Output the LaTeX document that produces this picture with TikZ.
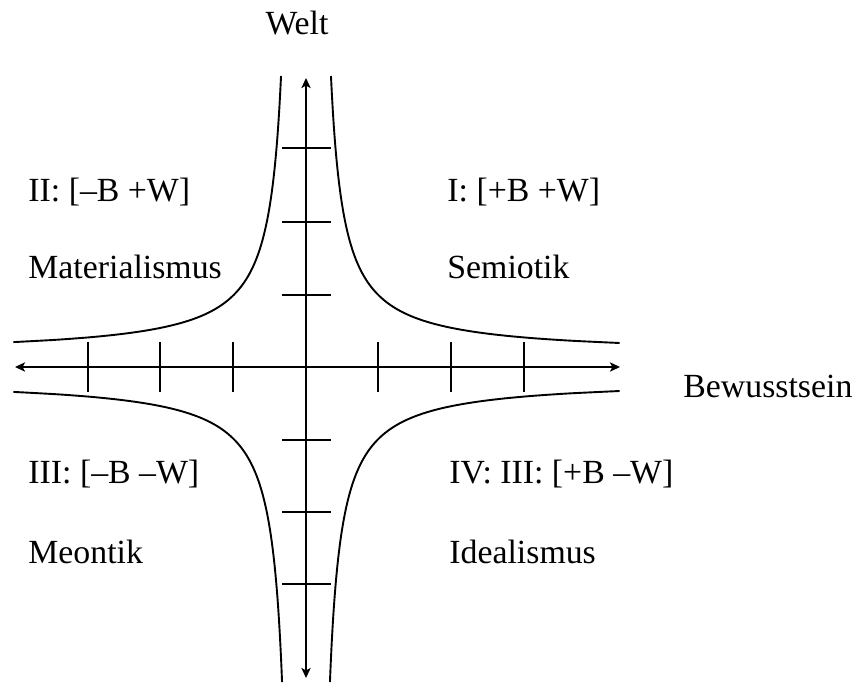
\documentclass[tikz,border=0pt]{standalone}
\usepackage{fontspec}
\setmainfont{Liberation Serif}
\usetikzlibrary{arrows.meta}
\begin{document}
\begin{tikzpicture}[x=0.5pt,y=-0.5pt,
  axis/.style={line width=1pt,-{Stealth[length=5pt,width=4.6pt,inset=1.2pt]}},
  curve/.style={line width=0.95pt},
  tick/.style={line width=0.95pt},
  lbl/.style={anchor=base west,inner sep=0pt,font=\fontsize{16.9}{20}\selectfont}]
\useasboundingbox (0,0) rectangle (861,685);
% axes
\coordinate (O) at (306,367);
\coordinate (top) at (306,78);
\coordinate (bot) at (306,678);
\coordinate (left) at (15,367);
\coordinate (right) at (620,367);
\draw[axis] (O) -- (top);
\draw[axis] (O) -- (bot);
\draw[axis] (O) -- (left);
\draw[axis] (O) -- (right);
% ticks
\foreach \tx in {88,160,233,378,451,524}
  \draw[tick] (\tx,342) -- (\tx,392);
\foreach \ty in {148,222,295,440,512,584}
  \draw[tick] (282,\ty) -- (331,\ty);
% hyperbolic curves
\draw[curve] plot[domain=24:291,samples=120,smooth] ({306+12+3620/(\x-12)},{367-\x});
\draw[curve] plot[domain=24.9:291,samples=120,smooth] ({306-12-3620/(\x-12)},{367-\x});
\draw[curve] plot[domain=24.9:315,samples=120,smooth] ({306-12-3620/(\x-12)},{367+\x});
\draw[curve] plot[domain=24:315,samples=120,smooth] ({306+12+3620/(\x-12)},{367+\x});
% labels
\node[lbl,anchor=base] (welt) at (297,34) {Welt};
\node[lbl] (bew) at (683,397) {Bewusstsein};
\node[lbl] (q2) at (28,201) {II: [–B +W]};
\node[lbl] (mat) at (28,278) {Materialismus};
\node[lbl] (q1) at (447,201) {I: [+B +W]};
\node[lbl] (sem) at (447,278) {Semiotik};
\node[lbl] (q3) at (28,483) {III: [–B –W]};
\node[lbl] (meo) at (28,563) {Meontik};
\node[lbl] (q4) at (449,483) {IV: III: [+B –W]};
\node[lbl] (ide) at (449,563) {Idealismus};
\end{tikzpicture}
\end{document}
